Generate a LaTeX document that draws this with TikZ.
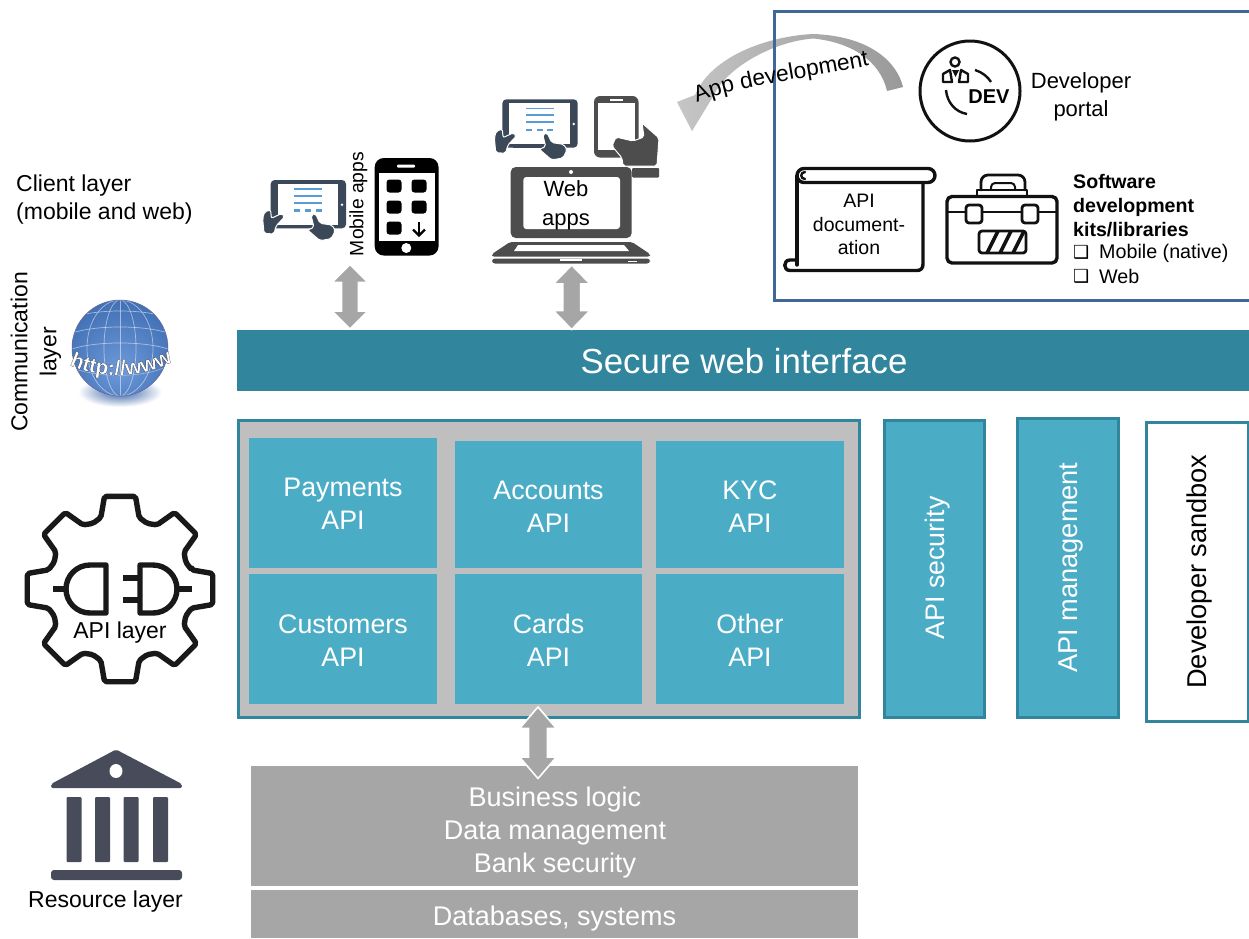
\documentclass[tikz,border=0pt]{standalone}
\usepackage{fontspec}
\setmainfont{Liberation Sans}
\newfontfamily\dejavufont{DejaVu Sans}
\newfontfamily\globefont[FakeBold=0.5]{Liberation Sans Bold}
\usetikzlibrary{decorations.text,shapes.geometric}
\definecolor{teal1}{HTML}{31859C}
\definecolor{cell}{HTML}{4BACC6}
\definecolor{boxgrey}{HTML}{BFBFBF}
\definecolor{arrowgrey}{HTML}{A6A6A6}
\definecolor{portal}{HTML}{3F6797}
\definecolor{slate}{HTML}{3B4858}
\definecolor{lapgrey}{HTML}{4D4D4D}
\definecolor{bank}{HTML}{484C5A}
\definecolor{linkblue}{HTML}{5B9BD5}
\definecolor{iconblack}{HTML}{111111}
\definecolor{glA}{HTML}{6E9ADA}
\definecolor{glB}{HTML}{4674B8}
\definecolor{glC}{HTML}{3560A6}
\definecolor{glD}{HTML}{1F3D75}
\pgfdeclareradialshading{globeshade}{\pgfpoint{0bp}{-12bp}}{
 color(0bp)=(glA);
 color(28bp)=(glB);
 color(46bp)=(glC);
 color(57bp)=(glD);
 color(65bp)=(glD)}
\newcommand{\fsz}[2]{\fontsize{#1}{#2}\selectfont}
\newcommand{\globefmt}{\globefont\fsz{21}{24}\color{white}\special{pdf:code 0 0 0 RG}}
\newcommand{\dblarrow}[6]{% cx top bottom halfhead halfshaft headlen
 \filldraw[blockarrow] (#1,#2) -- (#1+#4,#2+#6) -- (#1+#5,#2+#6) -- (#1+#5,#3-#6) -- (#1+#4,#3-#6)
  -- (#1,#3) -- (#1-#4,#3-#6) -- (#1-#5,#3-#6) -- (#1-#5,#2+#6) -- (#1-#4,#2+#6) -- cycle;}
\newcommand{\apicellnode}[7]{% name cx cy w h texty text
 \node[apicell,minimum width=#4pt,minimum height=#5pt] (#1) at (#2,#3) {};
 \node[celltext] (#1txt) at (#2,#6) {#7};}
\newcommand{\tableticon}[2]{%
 \begin{scope}[shift={(#1,#2)},scale=1/3]
  \fill[slate,rounded corners=4pt] (92,330) rectangle (318,475);
  \fill[white] (113,342) rectangle (295,465);
  \fill[slate] (125,465) rectangle (210,475);
  \fill[white] (306,404) circle (4);
  \foreach \yy in {358,378,398}{\draw[linkblue,line width=1.7pt] (163,\yy) -- (247,\yy);}
  \foreach \xx in {163,195,227}{\draw[linkblue,line width=2.4pt] (\xx,422) -- (\xx+18,422);}
  \filldraw[slate,draw=white,line width=1pt,rounded corners=2pt] (68,445) -- (74,425) -- (92,420) -- (94,445) -- (126,430) -- (134,440) -- (108,468) -- (102,492) -- (72,490) -- cycle;
  \filldraw[slate,draw=white,line width=1pt,rounded corners=2pt] (213,435) -- (226,430) -- (240,460) -- (276,465) -- (286,482) -- (274,506) -- (240,512) -- (203,480) -- (222,472) -- cycle;
 \end{scope}}
\tikzset{
 lbl/.style={inner sep=0pt,text=black,align=center},
 apicell/.style={fill=cell,draw=none,inner sep=0pt},
 celltext/.style={inner sep=0pt,text=white,align=center,font=\fsz{26.8}{33}},
 sidebox/.style={fill=cell,draw=teal1,line width=3pt},
 blockarrow/.style={fill=arrowgrey,draw=white,line width=1.6pt,miter limit=10},
 greybox/.style={fill=arrowgrey,draw=none,inner sep=0pt,text=white,align=center,font=\fsz{27}{33}},
 iconline/.style={draw=iconblack,line width=3.4pt,line join=round,line cap=round},
 gearline/.style={draw=black!90,line width=5.4pt,line join=round,line cap=butt},
}
\begin{document}
\begin{tikzpicture}[x=1pt,y=-1pt]
\useasboundingbox (0,0) rectangle (1249,938);
\fill[white] (0,0) rectangle (1249,938);

% curved arrow
\shade[left color=gray!45,right color=gray!80,shading angle=90]
 (903,87) .. controls (897,62) and (870,36) .. (813,34) .. controls (770,36) and (712,55) .. (695,95)
 -- (677,102) -- (692,131) -- (714,95)
 .. controls (725,70) and (770,42) .. (813,38.5) .. controls (850,42) and (880,60) .. (887,91) -- cycle;

% developer box
\draw[portal,line width=3pt] (1249,11) -- (774.5,11) -- (774.5,300) -- (1249,300);

\path[postaction={decorate},decoration={text along path,text align=left,
  text={|\fsz{22.7}{26}|App development}}]
 (697,103) .. controls (740,84) and (805,80) .. (885,62);

% developer portal
\node[circle,draw=iconblack,line width=3pt,minimum size=100pt,inner sep=0pt] (devcircle) at (970,91) {};
\draw[iconblack,line width=2.4pt] (955,62) circle (4.5);
\draw[iconblack,line width=2.4pt,line join=round] (943,82) -- (943,74) -- (950,70) -- (952,82) -- cycle;
\draw[iconblack,line width=2.4pt,line join=round] (968,82) -- (968,74) -- (961,70) -- (959,82) -- cycle;
\fill[iconblack] (952,70) -- (959,70) -- (955.5,77) -- cycle;
\draw[iconblack,line width=2.4pt] (975,70) .. controls (982,72) and (988,77) .. (991,82);
\draw[iconblack,line width=2.4pt] (946,90) .. controls (947,102) and (955,112) .. (967,114);
\node[lbl,font=\bfseries\fsz{20}{22}] (devtxt) at (989,97) {DEV};
\node[lbl,font=\fsz{22}{28.5}] (devportal) at (1081,97) {Developer\\portal};

% scroll
\draw[iconline] (797,265) -- (797,176);
\draw[iconline,rounded corners=7pt] (797,168.5) rectangle (935,182.5);
\draw[iconline] (923,182.5) -- (923,264) .. controls (923,268) and (921,270.5) .. (917,270.5) -- (790,270.5);
\draw[iconline] (790,270.5) .. controls (783,270.5) and (783,260) .. (790,260) -- (797,260);
\draw[iconline,line width=2.4pt] (805,172) .. controls (800,172) and (800,179) .. (805,179);
\node[lbl,font=\fsz{19.5}{23.5}] (apidoc) at (859,224.5) {API\\document-\\ation};

% toolbox
\draw[iconline,rounded corners=5pt] (947,196.5) rectangle (1057,263);
\draw[iconline,line width=2.6pt] (947,212) -- (1057,212);
\draw[iconline,line width=2.8pt] (977,195) -- (977,190) -- (1027,190) -- (1027,195);
\draw[iconline,rounded corners=7pt,line width=2.8pt] (981,190) -- (981,175) -- (1025,175) -- (1025,190);
\draw[iconline,rounded corners=4pt,line width=2pt] (991,190) -- (991,183) -- (1015,183) -- (1015,190);
\filldraw[fill=white,iconline,rounded corners=3pt,line width=2.8pt] (966,205) rectangle (982,223);
\filldraw[fill=white,iconline,rounded corners=3pt,line width=2.8pt] (1022,205) rectangle (1038,223);
\draw[iconline,rounded corners=3pt,line width=2.8pt] (979,231) rectangle (1026,253);
\begin{scope}
 \clip (979,231) rectangle (1026,253);
 \foreach \dx in {0,13,26}{\fill[iconblack] (985+\dx,253) -- (996+\dx,231) -- (1000+\dx,231) -- (989+\dx,253) -- cycle;}
\end{scope}

% SDK text
\node[lbl,anchor=west,align=left,font=\bfseries\fsz{19.6}{24}] (sdk) at (1073,205.5) {Software\\development\\kits/libraries};
\node[lbl,anchor=west,font=\dejavufont\fsz{18}{20}] (chk1) at (1073,252) {❑};
\node[lbl,anchor=west,font=\dejavufont\fsz{18}{20}] (chk2) at (1073,276) {❑};
\node[lbl,anchor=west,font=\fsz{19.7}{22}] (mobnative) at (1099,253) {Mobile (native)};
\node[lbl,anchor=west,font=\fsz{19.7}{22}] (webopt) at (1099,276.5) {Web};

% left labels
\node[lbl,anchor=west,align=left,font=\fsz{23}{28}] (client) at (16,200) {Client layer\\(mobile and web)};
\node[lbl,rotate=90,font=\fsz{23}{29}] (comm) at (36,352) {Communication\\layer};
\node[lbl,font=\fsz{23}{26}] (reslayer) at (105.5,902) {Resource layer};

% mobile apps
\tableticon{240}{70}
\node[lbl,rotate=90,font=\fsz{19.3}{22}] (mobileapps) at (358.5,204) {Mobile apps};
\fill[black,rounded corners=9pt] (374.7,158) rectangle (438.5,255.5);
\fill[white] (378.5,173) rectangle (435,240.5);
\fill[white,rounded corners=1pt] (397,164.7) rectangle (415,167.5);
\fill[white] (406.3,248) circle (5);
\foreach \xx/\yy in {394/186,419/186,394/207,419/207,394/228}{
 \fill[black,rounded corners=3pt] (\xx-7.5,\yy-6.5) rectangle (\xx+7.5,\yy+6.5);}
\draw[black,line width=2.4pt] (419,222) -- (419,235);
\draw[black,line width=2.4pt] (413,229.5) -- (419,235.5) -- (425,229.5);

% web apps devices
\tableticon{471.7}{-10.7}
\fill[lapgrey,rounded corners=6pt] (594,96) rectangle (638.5,157.5);
\fill[white] (598,103) rectangle (634.5,150);
\fill[white] (610,98.5) rectangle (623,100.5);
\filldraw[lapgrey,draw=white,line width=1pt,rounded corners=2pt] (642,123) -- (659,138) -- (657,166) -- (623,166) -- (622,158) -- (612,146) -- (616,137) -- (633,141) -- (644,137) -- cycle;
\fill[lapgrey,rounded corners=1pt] (632,168) rectangle (659,177.5);
\fill[lapgrey,rounded corners=5pt] (510.7,167) rectangle (631.7,238);
\fill[white,rounded corners=3pt] (523.3,177) rectangle (620,229);
\fill[white] (571,172) circle (2);
\fill[lapgrey,rounded corners=2pt] (510,242) -- (632,242) -- (650,254) -- (650,256.5) -- (492,256.5) -- (492,254) -- cycle;
\fill[white] (518,245) -- (624,245) -- (629,251) -- (514,251) -- cycle;
\fill[lapgrey,rounded corners=3pt] (492,258.5) rectangle (650,263.5);
\fill[white] (560,259) rectangle (582,260.5);
\fill[white] (628,260.5) rectangle (637,261.5);
\node[lbl,font=\fsz{22}{29}] (webapps) at (566,205) {Web\\apps};

% secure bar
\node[fill=teal1,draw=none,inner sep=0pt,minimum width=1012pt,minimum height=60.5pt,anchor=north west] (bar) at (237,330) {};
\node[lbl,text=white,font=\fsz{34.8}{38}] (bartxt) at (744,361.5) {Secure web interface};
\dblarrow{350}{264.5}{329}{18}{8.5}{18}
\dblarrow{571.7}{265}{329.5}{18.5}{9}{19}

% API box
\node[fill=boxgrey,draw=teal1,line width=3pt,inner sep=0pt,outer sep=0pt,minimum width=621pt,minimum height=297pt,anchor=north west] (apibox) at (238,420.5) {};
\apicellnode{c1}{343}{503}{188}{130}{503.5}{Payments\\API}
\apicellnode{c2}{548.5}{504.5}{187}{127}{506.5}{Accounts\\API}
\apicellnode{c3}{750}{504.5}{188}{127}{506.5}{KYC\\API}
\apicellnode{c4}{343}{638.8}{188}{129.5}{640.5}{Customers\\API}
\apicellnode{c5}{548.5}{638.8}{187}{129.5}{640.5}{Cards\\API}
\apicellnode{c6}{750}{638.8}{188}{129.5}{640.5}{Other\\API}

% side boxes
\node[sidebox,minimum width=100.5pt,minimum height=297pt,inner sep=0pt] (sec) at (934.5,568.5) {};
\node[lbl,text=white,rotate=90,font=\fsz{26.8}{30}] (sectxt) at (937.5,568) {API security};
\node[sidebox,minimum width=100.5pt,minimum height=298.5pt,inner sep=0pt] (mgt) at (1068,568) {};
\node[lbl,text=white,rotate=90,font=\fsz{27.2}{30}] (mgttxt) at (1071,567.5) {API management};
\node[fill=white,draw=teal1,line width=3pt,minimum width=102pt,minimum height=299pt,inner sep=0pt] (sand) at (1197.5,572) {};
\node[lbl,rotate=90,font=\fsz{27.2}{30}] (sandtxt) at (1199,571.5) {Developer sandbox};

% grey boxes
\node[greybox,minimum width=607pt,minimum height=120.5pt] (biz) at (554.5,826) {};
\node[lbl,text=white,font=\fsz{27}{33}] (biztxt) at (555,832.5) {Business logic\\Data management\\Bank security};
\node[greybox,minimum width=607pt,minimum height=48pt,execute at begin node={\rule{0pt}{29pt}}] (db) at (554.5,914) {Databases, systems};
\dblarrow{538}{707}{778.5}{18.5}{9.5}{21.5}

% globe
\shade[inner color=glC,outer color=white] (120,392) ellipse (42 and 15);
\shade[shading=globeshade,draw=gray!80!blue,line width=.5pt] (120,348) circle (48);
\begin{scope}
 \clip (120,348) circle (47.5);
 \foreach \rx in {16,33}{\draw[white,opacity=.5,line width=.7pt] (120,348) ellipse ({\rx} and 48);}
 \draw[white,opacity=.5,line width=.7pt] (120,300) -- (120,396);
 \foreach \yy/\rr in {312/46,328/48,344/48}{\draw[white,opacity=.5,line width=.7pt] (120-\rr,\yy+5) .. controls (120-\rr/2,\yy-3) and (120+\rr/2,\yy-3) .. (120+\rr,\yy+5);}
 \draw[white,opacity=.4,line width=.7pt] (72,368) .. controls (100,378) and (145,378) .. (168,366);
\end{scope}
\path[postaction={decorate},decoration={text along path,text align=center,
  text={|\globefmt|http://www}}]
 (64,362) .. controls (95,380) and (145,380) .. (178,358);

% gear
\begin{scope}[shift={(120,589)}]
 \draw[gearline,rounded corners=2pt] (-15:74)
  \foreach \a in {0,45,90,135,180,225,270,315}{ -- (\a-15:74) -- (\a-9.5:94) -- (\a+9.5:94) -- (\a+15:74) -- (\a+22.5:71)} -- cycle;
\end{scope}
\draw[gearline] (106,565) -- (90,565) arc (-90:-270:24) -- (106,613) -- cycle;
\draw[gearline] (53,589) -- (66,589);
\draw[gearline] (140,565) -- (153,565) arc (-90:90:24) -- (140,613) -- cycle;
\draw[gearline] (123,578) -- (140,578);
\draw[gearline] (123,600) -- (140,600);
\draw[gearline] (177,589) -- (192,589);
\node[lbl,font=\fsz{23}{26}] (apilayer) at (120,633) {API layer};

% bank
\fill[bank,rounded corners=2pt] (116,749.5) -- (182,784) -- (182,788) -- (51,788) -- (51,784) -- cycle;
\fill[white] (116,771) ellipse (6.5 and 7);
\foreach \xx in {66.5,95,123.7,153}{\fill[bank,rounded corners=1pt] (\xx,797) rectangle (\xx+15,862);}
\fill[bank,rounded corners=3pt] (51,870) rectangle (182,880);
\end{tikzpicture}
\end{document}
